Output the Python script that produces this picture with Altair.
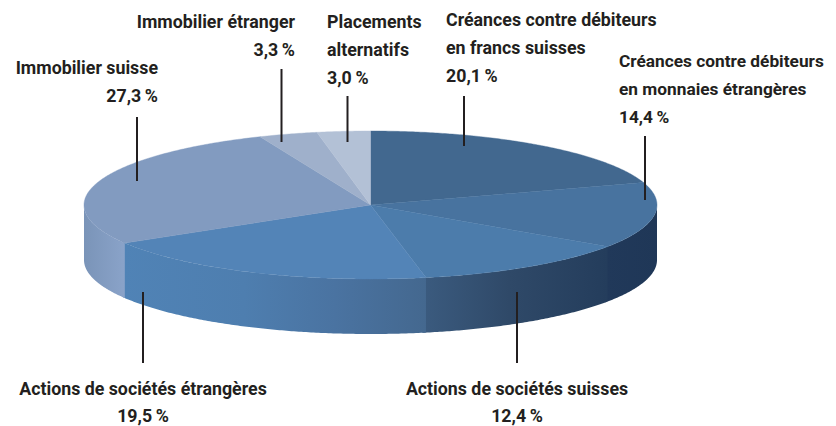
import math
import altair as alt

names = ["Créances contre débiteurs en francs suisses", "Créances contre débiteurs en monnaies étrangères",
         "Actions de sociétés suisses", "Actions de sociétés étrangères",
         "Immobilier suisse", "Immobilier étranger", "Placements alternatifs"]
shares = [20.1, 14.4, 12.4, 19.5, 27.3, 3.3, 3.0]
top_colors = ["#42688f", "#48739f", "#4c7cab", "#5384b7", "#829bc0", "#9fb0cb", "#b3c1d6"]
side_stops = [None,
              [(0, "#21395a"), (1, "#1f3757")],
              [(0, "#3b5b7f"), (0.47, "#2f4968"), (1, "#243d5c")],
              [(0, "#5083b6"), (0.4, "#4e7eaf"), (0.7, "#4a73a1"), (1, "#44688f")],
              [(0, "#7a94b8"), (1, "#8aa3c9")],
              None, None]

# label layout: text lines, anchor, font size, in page pixels
labels = [
    (["Créances contre débiteurs", "en francs suisses", "20,1\u2009%"], 446, [26, 54, 82], "left", 17.8),
    (["Créances contre débiteurs", "en monnaies étrangères", "14,4\u2009%"], 619, [67, 95, 123], "left", 17.3),
    (["Actions de sociétés suisses", "12,4\u2009%"], 517, [395, 422], "center", 17.8),
    (["Actions de sociétés étrangères", "19,5\u2009%"], 143, [395, 422], "center", 17.8),
    (["Immobilier suisse", "27,3\u2009%"], 158, [74, 102], "right", 17.8),
    (["Immobilier étranger", "3,3\u2009%"], 295, [28, 56], "right", 17.8),
    (["Placements", "alternatifs", "3,0\u2009%"], 327, [28, 56, 84], "left", 17.8),
]
leaders = [(464, 96, 146), (645, 136, 200), (517, 292, 363), (143, 292, 363),
           (137, 117, 181), (281.5, 69, 142), (347.5, 96, 142)]

MARGIN = 8
CX, CY, RX, RY, DEPTH = 370.5 - MARGIN, 205 - MARGIN, 286.5, 74, 55
W, H = 820, 418
SEAM = 0.002


def pt(frac, dy=0):
    a = 2 * math.pi * frac
    return [CX + RX * math.sin(a), CY - RY * math.cos(a) + dy]


def arc(f0, f1, dy=0):
    n = max(2, int(abs(f1 - f0) * 720))
    return [pt(f0 + (f1 - f0) * i / n, dy) for i in range(n + 1)]


def feature(ring):
    ring = ring + [ring[0]]
    return {"type": "Feature", "properties": {}, "geometry": {"type": "Polygon", "coordinates": [ring]}}


def shape_layer(ring, **mark):
    return alt.Chart(alt.Data(values=[feature(ring)], format=alt.DataFormat(type="json"))).mark_geoshape(
        **mark
    ).project(type="identity", scale=1, translate=[0, 0])


layers = []
cum = 0
bounds = []
for s in shares:
    bounds.append((cum / 100, (cum + s) / 100))
    cum += s

# sides: each one runs slightly under the next, so no light seam shows between them
for (f0, f1), stops in zip(bounds, side_stops):
    a, b = max(f0, 0.25), min(f1 + SEAM, 0.75)
    if stops is None or a >= b:
        continue
    ring = arc(a, b) + arc(b, a, DEPTH)
    grad = alt.LinearGradient(gradient="linear", x1=0, x2=1, y1=0, y2=0,
                              stops=[alt.GradientStop(offset=o, color=c) for o, c in sorted(stops)])
    layers.append(shape_layer(ring, fill=grad, strokeWidth=0))

# top surface
for (f0, f1), col in zip(bounds, top_colors):
    ring = [[CX, CY]] + arc(f0, f1)
    layers.append(shape_layer(ring, fill=col, stroke=col, strokeWidth=0.4))

x_scale = alt.Scale(domain=[0, W], range=[0, W])
y_scale = alt.Scale(domain=[0, H], range=[0, H])

rule_rows = [{"x": x - MARGIN, "y": a - MARGIN, "y2": b - MARGIN} for x, a, b in leaders]
layers.append(alt.Chart(alt.Data(values=rule_rows)).mark_rule(color="#231f20", strokeWidth=2).encode(
    x=alt.X("x:Q", scale=x_scale, axis=None),
    y=alt.Y("y:Q", scale=y_scale, axis=None),
    y2="y2:Q"))

for lines, ax, ys, align, size in labels:
    rows = [{"t": t, "x": ax - MARGIN, "y": y - MARGIN} for t, y in zip(lines, ys)]
    layers.append(alt.Chart(alt.Data(values=rows)).mark_text(
        font="Roboto", fontWeight="bold", fontSize=size, color="#231f20", align=align, baseline="alphabetic"
    ).encode(x=alt.X("x:Q", scale=x_scale, axis=None), y=alt.Y("y:Q", scale=y_scale, axis=None), text="t:N"))

chart = alt.layer(*layers).resolve_scale(x="shared", y="shared").properties(
    width=W, height=H, padding=0, autosize=alt.AutoSizeParams(type="none"))
chart = chart.configure_view(stroke=None)
chart.save("out.html", embed_options={"renderer": "svg", "actions": False})
